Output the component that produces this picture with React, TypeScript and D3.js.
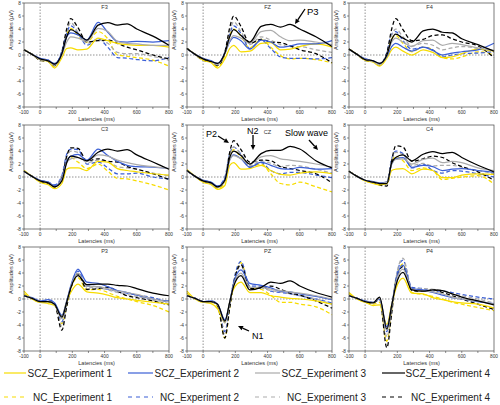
import React from "react";
import * as d3 from "d3";

// ---- data ----
const TIMES = [-100, -50, 0, 50, 90, 135, 165, 190, 235, 290, 360, 420, 480, 540, 600, 700, 800];
const SERIES_NAMES = [
  "SCZ_Experiment 1", "SCZ_Experiment 2", "SCZ_Experiment 3", "SCZ_Experiment 4",
  "NC_Experiment 1", "NC_Experiment 2", "NC_Experiment 3", "NC_Experiment 4",
];
const PANEL_NAMES = ["F3", "FZ", "F4", "C3", "CZ", "C4", "P3", "PZ", "P4"];
const X_TICKS = [-100, 0, 100, 200, 300, 400, 500, 600, 700, 800];
const X_TICK_LABELS = [-100, 0, 200, 400, 600, 800];
const Y_TICKS = [-8, -6, -4, -2, 0, 2, 4, 6, 8];

// rows: SCZ1, SCZ2, SCZ3, SCZ4, NC1, NC2, NC3, NC4
const F3 = [
  [0.8, 0.1, -0.7, -1.0, -2.0, -0.4, 1.0, 1.1, 0.8, 0.9, 2.6, 2.2, 1.8, 1.6, 1.5, 1.5, 1.2],
  [0.8, 0.1, -0.5, -0.8, -1.3, 0.3, 2.8, 3.4, 3.1, 2.3, 5.0, 3.5, 2.1, 2.0, 2.1, 2.0, 2.2],
  [0.8, 0.1, -0.7, -0.9, -1.6, 0.0, 2.0, 2.8, 2.6, 2.1, 4.1, 3.6, 2.1, 1.8, 1.7, 1.5, 1.5],
  [0.8, 0.1, -0.6, -0.9, -1.4, 0.2, 2.8, 3.9, 3.3, 2.3, 4.6, 5.0, 4.6, 4.8, 4.0, 2.9, 1.5],
  [0.8, 0.1, -0.8, -1.0, -1.8, 0.2, 3.2, 4.1, 3.0, 2.0, 3.6, 2.5, 0.0, -0.2, -0.4, -0.8, -1.7],
  [0.8, 0.1, -0.6, -0.8, -1.5, 0.6, 3.4, 4.5, 3.4, 1.5, 2.5, 1.2, -0.4, -0.5, -0.7, -0.9, -0.4],
  [0.8, 0.1, -0.7, -0.9, -1.7, 0.4, 3.6, 5.0, 3.5, 1.8, 2.3, 1.8, 0.4, 0.2, 0.2, -0.2, -0.8],
  [0.8, 0.1, -0.8, -1.0, -1.6, 0.4, 4.0, 5.6, 4.2, 2.0, 2.2, 2.3, 1.8, 1.2, 0.8, 0.0, -0.6],
];
const FZ = [
  [1.0, 0.1, -0.8, -1.2, -2.0, -0.6, 1.0, 1.5, 0.5, 0.6, 1.8, 1.9, 0.8, 0.9, 1.3, 1.7, 1.2],
  [1.0, 0.1, -0.5, -0.9, -1.3, 0.3, 2.0, 2.7, 2.2, 0.9, 2.3, 2.0, 1.2, 1.4, 1.7, 1.7, 2.2],
  [1.0, 0.1, -0.6, -1.0, -1.5, 0.2, 2.2, 3.0, 2.6, 1.8, 3.6, 3.8, 2.8, 2.2, 2.3, 2.0, 1.6],
  [1.0, 0.1, -0.6, -1.0, -1.3, 0.3, 2.8, 3.9, 3.0, 2.0, 4.4, 4.7, 4.3, 4.7, 4.0, 2.8, 1.3],
  [1.0, 0.1, -0.8, -1.1, -1.8, 0.0, 3.0, 4.0, 2.9, 1.1, 2.4, 1.2, -0.1, -0.6, -0.5, -0.7, -1.2],
  [1.0, 0.1, -0.6, -0.9, -1.5, 0.5, 3.3, 4.5, 3.3, 1.0, 2.3, 1.0, -0.3, -0.5, -0.5, -0.6, -0.4],
  [1.0, 0.1, -0.7, -1.0, -1.6, 0.4, 3.6, 5.1, 3.6, 1.6, 2.8, 2.3, 1.6, 1.3, 1.3, 0.8, 0.4],
  [1.0, 0.1, -0.8, -1.0, -1.6, 0.4, 4.2, 6.0, 4.4, 1.8, 2.4, 2.0, 1.9, 1.4, 0.8, 0.2, -1.2],
];
const F4 = [
  [0.9, 0.1, -0.8, -1.1, -1.7, -0.5, 0.8, 1.2, 0.6, 0.0, 0.8, 0.4, -0.4, -0.3, 0.2, 0.9, 0.6],
  [0.9, 0.1, -0.6, -0.9, -1.3, -0.2, 1.3, 1.8, 1.2, 0.6, 1.2, 0.7, 0.0, 0.3, 0.5, 0.8, 1.8],
  [0.9, 0.1, -0.7, -1.0, -1.5, 0.0, 2.0, 2.6, 2.0, 1.3, 2.2, 2.3, 1.5, 1.8, 1.6, 1.1, 0.7],
  [0.9, 0.1, -0.7, -0.9, -1.3, 0.0, 2.4, 3.2, 2.6, 2.0, 3.7, 4.0, 3.5, 3.4, 2.5, 1.6, 0.6],
  [0.9, 0.1, -0.8, -1.0, -1.6, 0.0, 2.5, 3.0, 1.8, 0.5, 1.2, 0.8, -0.4, -0.6, -0.3, 0.5, 0.0],
  [0.9, 0.1, -0.6, -0.9, -1.4, 0.4, 3.2, 3.6, 2.2, 0.9, 1.2, 0.8, -0.3, 0.0, 0.2, 0.3, 0.5],
  [0.9, 0.1, -0.7, -1.0, -1.4, 0.2, 3.0, 4.0, 2.8, 1.4, 1.8, 1.5, 0.8, 1.1, 1.3, 1.0, 0.4],
  [0.9, 0.1, -0.8, -1.0, -1.5, 0.3, 4.0, 5.6, 3.9, 2.2, 2.4, 3.0, 3.1, 2.5, 2.0, 1.4, -0.4],
];
const C3 = [
  [1.0, 0.1, -0.8, -1.2, -1.8, -1.0, 1.2, 1.4, 1.4, 1.0, 2.4, 2.3, 1.3, 1.0, 0.8, 0.5, 0.3],
  [0.9, 0.1, -0.5, -0.8, -1.3, -0.3, 2.5, 3.2, 3.5, 2.6, 4.3, 3.3, 2.4, 1.8, 1.6, 1.5, 1.3],
  [0.9, 0.1, -0.6, -0.9, -1.5, -0.4, 2.2, 2.8, 3.0, 2.4, 3.4, 3.2, 2.6, 2.2, 1.9, 1.6, 1.3],
  [0.9, 0.1, -0.6, -0.9, -1.5, -0.6, 2.2, 3.2, 3.0, 2.5, 3.8, 4.3, 4.0, 4.2, 3.4, 2.3, 1.2],
  [1.0, 0.1, -0.7, -1.0, -1.6, -0.3, 2.5, 3.0, 2.3, 1.3, 2.0, 0.9, -0.2, -0.3, -0.6, -1.2, -2.0],
  [0.9, 0.1, -0.5, -0.8, -1.2, 0.2, 3.5, 4.3, 4.2, 2.0, 2.3, 1.4, 0.5, 0.5, 0.6, 0.0, -0.3],
  [0.9, 0.1, -0.6, -0.9, -1.4, 0.0, 3.0, 4.0, 3.8, 2.2, 2.6, 2.3, 1.6, 1.4, 1.2, 0.6, 0.2],
  [0.9, 0.1, -0.7, -1.0, -1.5, -0.2, 3.2, 4.5, 4.4, 2.5, 2.8, 2.4, 2.3, 1.6, 1.2, 0.5, -0.4],
];
const CZ = [
  [1.1, 0.1, -0.8, -1.2, -1.9, -1.3, 1.8, 2.2, 1.2, 1.3, 1.8, 1.0, 0.4, 0.3, 0.6, 0.8, 0.5],
  [1.0, 0.1, -0.5, -0.8, -1.4, -0.3, 2.6, 3.4, 2.8, 1.5, 2.3, 1.8, 1.3, 1.2, 1.5, 1.2, 1.3],
  [1.0, 0.1, -0.6, -1.0, -1.6, -0.6, 2.6, 3.3, 2.8, 2.0, 3.1, 3.3, 2.8, 2.6, 2.4, 2.0, 1.5],
  [1.0, 0.1, -0.6, -0.9, -1.5, -0.5, 3.0, 4.0, 3.3, 2.0, 3.6, 4.1, 4.1, 4.7, 4.3, 2.5, 1.4],
  [1.1, 0.1, -0.7, -1.1, -1.8, -0.8, 3.3, 4.2, 3.0, 1.6, 2.0, 0.5, -1.0, -1.2, -0.8, -1.5, -2.3],
  [1.0, 0.1, -0.5, -0.8, -1.4, 0.0, 3.6, 4.6, 3.5, 1.5, 2.2, 1.0, 0.5, 0.7, 0.7, 0.3, -0.1],
  [1.0, 0.1, -0.6, -0.9, -1.5, -0.2, 3.5, 4.6, 3.5, 1.7, 2.5, 2.1, 1.6, 1.8, 1.7, 1.2, 0.6],
  [1.0, 0.1, -0.7, -1.0, -1.6, -0.5, 3.8, 5.6, 4.2, 2.3, 2.6, 2.5, 1.6, 1.3, 1.0, 0.5, -0.9],
];
const C4 = [
  [0.9, 0.1, -0.6, -1.0, -1.2, -1.0, 1.0, 1.2, 1.3, 0.5, 1.2, 1.0, -0.1, -0.1, 0.3, 0.5, 0.4],
  [0.9, 0.1, -0.5, -0.7, -0.9, -0.8, 2.0, 2.8, 3.0, 1.5, 1.8, 1.6, 1.0, 1.2, 1.3, 1.0, 0.7],
  [0.9, 0.1, -0.5, -0.8, -1.0, -0.8, 2.0, 2.7, 2.8, 2.0, 2.7, 2.9, 2.2, 2.4, 2.2, 1.4, 1.0],
  [0.9, 0.1, -0.5, -0.8, -1.0, -1.0, 2.2, 3.0, 3.4, 2.5, 3.5, 3.9, 3.6, 3.8, 3.0, 1.8, 0.8],
  [0.9, 0.1, -0.6, -0.9, -1.2, -1.0, 2.3, 3.2, 2.5, 1.0, 1.4, 1.0, -0.4, -0.2, 0.0, 0.2, -1.1],
  [0.9, 0.1, -0.5, -0.8, -1.0, -0.8, 2.8, 4.0, 3.6, 1.4, 2.0, 1.0, 0.6, 1.0, 0.9, 0.5, 0.0],
  [0.9, 0.1, -0.5, -0.8, -1.1, -0.9, 2.6, 3.8, 3.4, 1.8, 2.1, 1.7, 1.8, 1.8, 1.5, 1.0, 0.5],
  [0.9, 0.1, -0.5, -0.8, -1.2, -1.4, 2.5, 4.8, 4.6, 2.4, 2.8, 3.2, 3.0, 2.2, 1.6, 0.8, -0.5],
];
const P3 = [
  [1.2, 0.0, -0.5, -0.7, -1.0, -2.6, -0.4, 1.0, 2.3, 1.1, 0.9, 0.6, 0.2, 0.0, -0.2, -0.5, -0.8],
  [0.5, 0.2, -0.3, -0.1, -0.6, -2.5, -0.3, 2.0, 4.6, 2.6, 2.4, 1.9, 1.3, 1.0, 0.6, 0.0, -0.3],
  [0.5, 0.1, -0.4, -0.4, -0.9, -3.0, -0.5, 1.8, 4.0, 2.0, 1.9, 1.6, 1.2, 1.0, 0.7, 0.0, -0.4],
  [0.5, 0.1, -0.4, -0.4, -0.8, -2.8, -0.5, 1.7, 3.6, 2.2, 2.3, 2.3, 2.1, 2.0, 1.6, 0.9, 0.5],
  [0.8, 0.0, -0.5, -0.5, -0.9, -3.8, -1.0, 1.5, 3.3, 1.4, 1.5, 1.0, 0.4, 0.0, -0.4, -1.0, -2.0],
  [0.5, 0.1, -0.4, -0.2, -0.7, -3.5, -0.6, 1.8, 4.3, 2.0, 1.9, 1.5, 1.2, 0.9, 0.6, 0.2, -0.6],
  [0.5, 0.1, -0.4, -0.3, -0.8, -4.2, -0.8, 1.6, 3.8, 1.8, 1.7, 1.4, 1.0, 0.7, 0.4, -0.2, -0.7],
  [0.5, 0.1, -0.4, -0.4, -0.8, -4.8, -1.2, 1.6, 3.9, 1.5, 1.6, 1.8, 1.2, 0.5, 0.2, -0.3, -0.9],
];
const PZ = [
  [1.2, 0.0, -0.5, -0.7, -1.5, -3.6, -0.5, 1.6, 2.6, 1.0, 1.0, 0.5, 0.3, 0.1, 0.0, -0.3, -0.8],
  [0.5, 0.1, -0.4, -0.3, -0.8, -3.2, -0.5, 2.5, 4.5, 2.4, 2.1, 1.7, 1.2, 1.1, 0.8, 0.4, -0.1],
  [0.5, 0.1, -0.4, -0.4, -0.9, -3.7, -0.6, 2.2, 4.0, 1.8, 1.8, 1.5, 1.3, 1.1, 0.9, 0.5, 0.0],
  [0.5, 0.1, -0.4, -0.4, -0.8, -3.4, -0.5, 2.0, 3.6, 1.4, 1.8, 2.6, 2.4, 2.8, 2.0, 1.0, 0.3],
  [0.9, 0.0, -0.5, -0.5, -1.2, -6.0, -1.5, 2.5, 5.6, 1.8, 1.5, 0.6, -0.5, -0.5, -0.8, -1.2, -2.4],
  [0.5, 0.1, -0.4, -0.3, -0.9, -5.0, -1.0, 2.8, 5.8, 2.0, 2.0, 1.2, 1.0, 0.8, 0.5, 0.0, -0.6],
  [0.5, 0.1, -0.4, -0.4, -1.0, -5.5, -1.2, 2.6, 5.1, 1.8, 1.7, 1.3, 1.1, 0.8, 0.5, 0.0, -0.8],
  [0.5, 0.1, -0.4, -0.4, -1.0, -6.0, -1.4, 2.4, 5.3, 1.6, 1.7, 2.0, 1.5, 0.9, 0.6, -0.3, -1.4],
];
const P4 = [
  [1.0, 0.0, -0.5, -1.0, -0.9, -3.9, -0.8, 1.5, 3.2, 0.9, 0.8, 0.2, -0.1, -0.4, -0.6, -0.8, -1.4],
  [0.5, 0.1, -0.3, -0.5, 0.0, -4.3, -1.0, 2.6, 5.2, 1.6, 1.4, 1.0, 0.6, 0.2, 0.0, -0.4, -0.7],
  [0.5, 0.1, -0.4, -0.5, 0.1, -4.8, -1.2, 2.4, 4.6, 1.5, 1.2, 1.1, 0.8, 0.3, 0.0, -0.3, -0.8],
  [0.5, 0.1, -0.4, -0.6, 0.3, -4.6, -1.0, 2.0, 4.1, 1.4, 1.2, 1.4, 1.3, 0.8, 0.3, -0.3, -0.9],
  [0.8, 0.0, -0.5, -0.8, -0.5, -6.5, -1.8, 2.8, 5.4, 1.0, 0.7, 0.4, 0.0, -0.5, -0.8, -1.3, -1.8],
  [0.5, 0.1, -0.4, -0.5, 0.0, -5.0, -1.5, 3.0, 6.0, 1.8, 1.6, 1.2, 1.2, 1.0, 0.7, 0.3, 0.0],
  [0.5, 0.1, -0.4, -0.5, -0.2, -5.8, -1.8, 3.0, 6.3, 1.6, 1.6, 1.5, 1.3, 0.8, 0.5, 0.0, -0.6],
  [0.5, 0.1, -0.4, -0.6, 0.0, -7.5, -2.2, 2.6, 5.0, 1.3, 1.2, 1.4, 1.0, 0.5, 0.0, -0.8, -1.6],
];
const PANEL_DATA = [F3, FZ, F4, C3, CZ, C4, P3, PZ, P4];

// ---- style ----
const COLORS = ["#f7dc00", "#3b5fd6", "#ababab", "#000000"];
const FONT = "'Liberation Sans', Arial, sans-serif";
const COL_X = [24, 187, 349];
const ROW_Y = [3, 125, 247];
const PW = 145;
const PH = 104;

function Arrow({ x1, y1, x2, y2 }: { x1: number; y1: number; x2: number; y2: number }) {
  const a = Math.atan2(y2 - y1, x2 - x1);
  const L = 5, Wd = 2.4;
  const bx = x2 - L * Math.cos(a), by = y2 - L * Math.sin(a);
  const p1 = [bx + Wd * Math.sin(a), by - Wd * Math.cos(a)];
  const p2 = [bx - Wd * Math.sin(a), by + Wd * Math.cos(a)];
  return (
    <g>
      <line x1={x1} y1={y1} x2={bx} y2={by} stroke="#000" strokeWidth={1.3} />
      <polygon points={`${x2},${y2} ${p1[0]},${p1[1]} ${p2[0]},${p2[1]}`} fill="#000" />
    </g>
  );
}

function Panel({ idx }: { idx: number }) {
  const col = idx % 3, row = Math.floor(idx / 3);
  const left = COL_X[col], top = ROW_Y[row];
  const x = d3.scaleLinear().domain([-100, 800]).range([left, left + PW]);
  const y = d3.scaleLinear().domain([-8, 8]).range([top + PH, top]);
  const line = d3.line<number>()
    .x((_, i) => x(TIMES[i]))
    .y((v) => y(v))
    .curve(d3.curveMonotoneX);
  const data = PANEL_DATA[idx];
  const order = [4, 5, 6, 7, 0, 1, 2, 3];
  return (
    <g>
      <line x1={x(-100)} x2={x(800)} y1={y(0)} y2={y(0)} stroke="#777" strokeWidth={0.8} strokeDasharray="1.5,1.5" />
      <line x1={x(0)} x2={x(0)} y1={y(-8)} y2={y(8)} stroke="#777" strokeWidth={0.8} strokeDasharray="1.5,1.5" />
      {order.map((s) => (
        <path
          key={s}
          d={line(data[s]) || ""}
          fill="none"
          stroke={COLORS[s % 4]}
          strokeWidth={1.25}
          strokeDasharray={s >= 4 ? "4,2.5" : undefined}
        />
      ))}
      <rect x={left} y={top} width={PW} height={PH} fill="none" stroke="#444" strokeWidth={0.7} />
      {Y_TICKS.map((t) => (
        <g key={"y" + t}>
          <line x1={left - 2} x2={left} y1={y(t)} y2={y(t)} stroke="#444" strokeWidth={0.6} />
          <text x={left - 3} y={y(t) + 1.7} fontSize={4.8} textAnchor="end" fill="#333" fontFamily={FONT}>{t}</text>
        </g>
      ))}
      {X_TICKS.map((t) => (
        <line key={"x" + t} x1={x(t)} x2={x(t)} y1={top + PH} y2={top + PH + 2} stroke="#444" strokeWidth={0.6} />
      ))}
      {X_TICK_LABELS.map((t) => (
        <text key={"xl" + t} x={x(t)} y={top + PH + 7} fontSize={4.8} textAnchor="middle" fill="#333" fontFamily={FONT}>{t}</text>
      ))}
      <text x={left + PW / 2} y={top + PH + 14} fontSize={5.6} textAnchor="middle" fill="#333" fontFamily={FONT}>Latencies (ms)</text>
      <text
        transform={`translate(${left - 11},${top + 27}) rotate(-90)`}
        fontSize={5.6}
        textAnchor="middle"
        fill="#333"
        fontFamily={FONT}
      >Amplitudes (μV)</text>
      <text x={x(400)} y={top + (idx === 4 ? 9 : 6)} fontSize={5.6} textAnchor="middle" fill="#333" fontFamily={FONT}>{PANEL_NAMES[idx]}</text>
    </g>
  );
}

export default function App() {
  const legendRows = [373, 397];
  const legendLineX = [[4, 26], [128, 153], [255, 280], [382, 405]];
  const legendTextEnd = [112, 239, 366, 490];
  return (
    <svg width={500} height={405} style={{ position: "absolute", left: 0, top: 0, background: "#fff" }}>
      <rect width={500} height={405} fill="#fff" />
      {PANEL_NAMES.map((_, i) => <Panel key={i} idx={i} />)}
      <Arrow x1={305} y1={9} x2={295} y2={24} />
      <text x={307} y={15} fontSize={9.5} fontFamily={FONT}>P3</text>
      <text x={206} y={137} fontSize={9} fontFamily={FONT}>P2</text>
      <Arrow x1={218} y1={136} x2={229} y2={143} />
      <text x={247} y={134} fontSize={9} fontFamily={FONT}>N2</text>
      <Arrow x1={253} y1={135} x2={253} y2={150} />
      <text x={285} y={136} fontSize={9} fontFamily={FONT}>Slow wave</text>
      <Arrow x1={309} y1={140} x2={318} y2={150} />
      <text x={252} y={339} fontSize={9} fontFamily={FONT}>N1</text>
      <Arrow x1={249} y1={331} x2={238} y2={326} />
      {SERIES_NAMES.map((name, s) => {
        const r = Math.floor(s / 4), c = s % 4;
        const yy = legendRows[r];
        return (
          <g key={name}>
            <line
              x1={legendLineX[c][0]} x2={legendLineX[c][1]} y1={yy} y2={yy}
              stroke={COLORS[c]} strokeWidth={1.2}
              strokeDasharray={r === 1 ? "4,4" : undefined}
            />
            <text x={legendTextEnd[c]} y={yy + 3.5} fontSize={10} textAnchor="end" fill="#222" fontFamily={FONT}>{name}</text>
          </g>
        );
      })}
    </svg>
  );
}
